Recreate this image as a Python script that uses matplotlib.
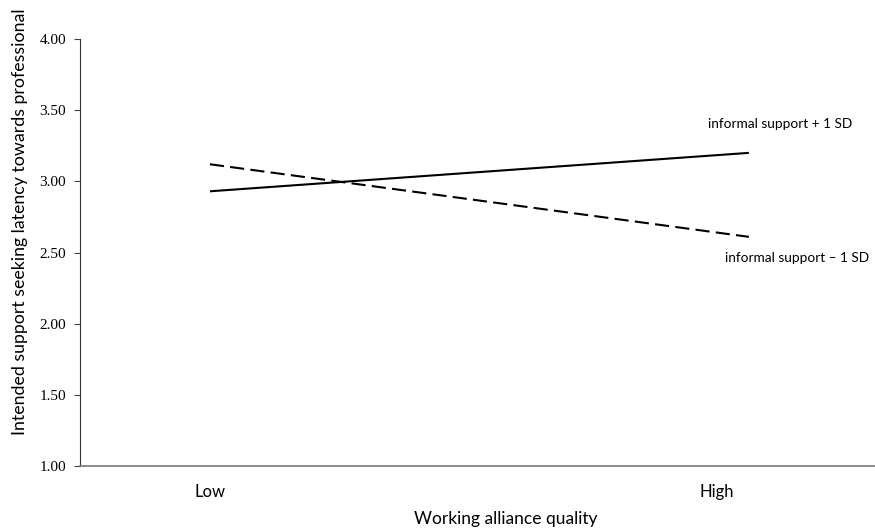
import matplotlib
matplotlib.use("Agg")
import matplotlib.pyplot as plt

categories = ["Low", "High"]
x_pos = [0, 1]
plus_sd = [2.93, 3.20]
minus_sd = [3.12, 2.61]
yticks = [1.00, 1.50, 2.00, 2.50, 3.00, 3.50, 4.00]
series_labels = ["informal support + 1 SD", "informal support \u2013 1 SD"]

fig = plt.figure(figsize=(8.75, 5.31), dpi=100)
ax = fig.add_axes([80/875, 1-466/531, 795/875, 427/531])

ax.plot(x_pos, plus_sd, color="black", lw=1.5, solid_capstyle="butt")
ax.plot(x_pos, minus_sd, color="black", lw=1.5, dashes=(6.8, 3.0))

ax.set_xlim(-0.241, 1.234)
ax.set_ylim(1.0, 4.0)
ax.set_yticks(yticks)
ax.set_yticklabels([f"{v:.2f}" for v in yticks], family="Liberation Serif", fontsize=11)
ax.set_xticks([0, 0.94])
ax.set_xticklabels(categories, family="Lato", fontsize=12)
ax.tick_params(axis="x", length=0, pad=13)
ax.tick_params(axis="y", length=4, width=0.8, color="#444444", pad=6)

for s in ["top", "right"]:
    ax.spines[s].set_visible(False)
ax.spines["left"].set_color("#333333")
ax.spines["bottom"].set_color("#777777")
ax.spines["bottom"].set_linewidth(1.2)

ax.set_xlabel("Working alliance quality", family="Lato", fontsize=12.5)
ax.xaxis.set_label_coords(0.535, -0.105)
ax.set_ylabel("Intended support seeking latency towards professional", family="Lato", fontsize=12.8)
ax.yaxis.set_label_coords(-0.066, 0.571)

ax.text(1.058, 3.40, series_labels[0], family="Lato", fontsize=9.8, ha="center", va="center")
ax.text(1.090, 2.46, series_labels[1], family="Lato", fontsize=9.8, ha="center", va="center")

fig.savefig("out.png", dpi=100)
